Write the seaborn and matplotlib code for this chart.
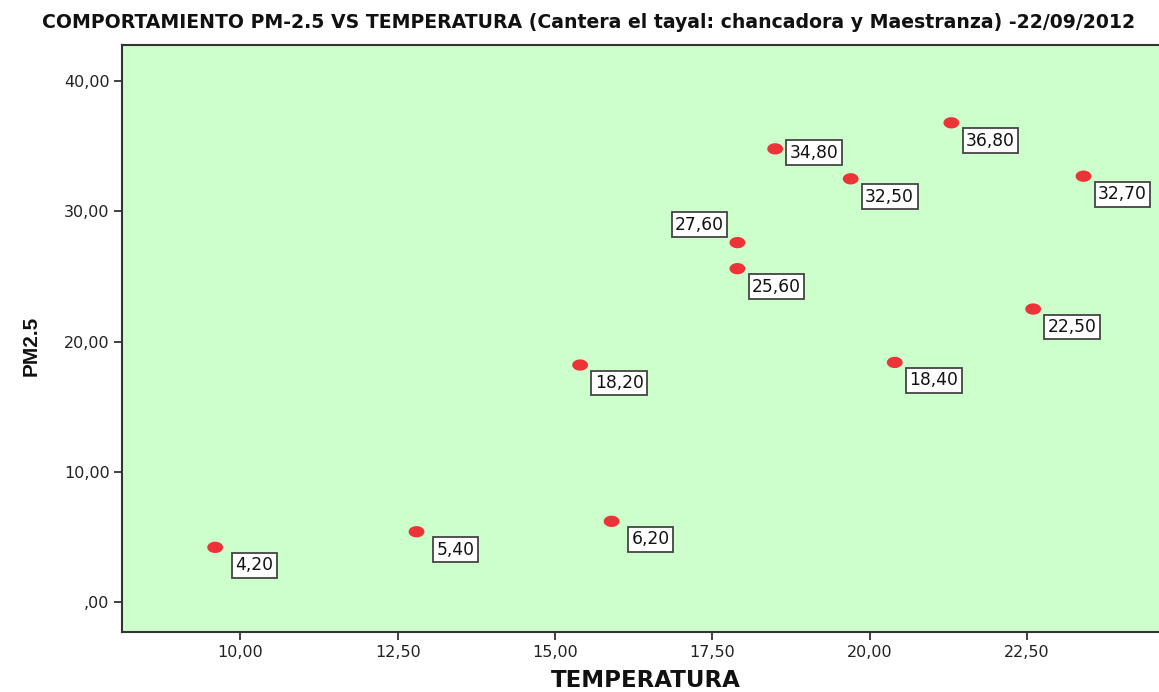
import numpy as np
import pandas as pd
import matplotlib
matplotlib.use("Agg")
import matplotlib.pyplot as plt
from matplotlib.ticker import FuncFormatter
from matplotlib.path import Path
import seaborn as sns

# ---- data ----
temperatura = [9.6, 12.8, 15.4, 15.9, 17.9, 17.9, 18.5, 19.7, 20.4, 21.3, 22.6, 23.4]
pm25 = [4.2, 5.4, 18.2, 6.2, 27.6, 25.6, 34.8, 32.5, 18.4, 36.8, 22.5, 32.7]
x_ticks = [10.0, 12.5, 15.0, 17.5, 20.0, 22.5]
y_ticks = [0, 10, 20, 30, 40]
title = "COMPORTAMIENTO PM-2.5 VS TEMPERATURA (Cantera el tayal: chancadora y Maestranza) -22/09/2012"

df = pd.DataFrame({"TEMPERATURA": temperatura, "PM2.5": pm25})

sns.set_theme(style="ticks")
plt.rcParams["font.family"] = ["DejaVu Sans"]

fig = plt.figure(figsize=(11.59, 6.92), dpi=100)
ax = fig.add_axes([0.1053, 0.0867, 0.8947, 0.848])
ax.set_facecolor("#ccffcc")

t = np.linspace(0, 2 * np.pi, 40)
ell = Path(np.column_stack([1.4 * np.cos(t), np.sin(t)]), closed=True)

sns.scatterplot(data=df, x="TEMPERATURA", y="PM2.5", ax=ax, marker=ell, s=130,
                color="#ee3338", edgecolor="none", linewidth=0, zorder=3)

# label offsets in pixels (dx, dy)
default_off = (39, -18)
special_off = {4: (-38, 18), 6: (39, -4)}
for i, (xv, yv) in enumerate(zip(temperatura, pm25)):
    dx, dy = special_off.get(i, default_off)
    ax.annotate(f"{yv:.2f}".replace(".", ","), (xv, yv),
                xytext=(dx * 0.72, dy * 0.72), textcoords="offset points",
                ha="center", va="center", fontsize=12.3, color="#111111",
                bbox=dict(boxstyle="square,pad=0.2", fc="white", ec="#444444", lw=1.3),
                zorder=4)

ax.set_xlim(8.12, 24.6)
ax.set_ylim(-2.3, 42.76)
ax.set_xticks(x_ticks)
ax.set_yticks(y_ticks)


def fmt_func(v, p):
    s = f"{v:.2f}".replace(".", ",")
    return s[1:] if s.startswith("0,") else s


fmt = FuncFormatter(fmt_func)
ax.xaxis.set_major_formatter(fmt)
ax.yaxis.set_major_formatter(fmt)
ax.tick_params(axis="both", direction="out", length=6, width=1.3, color="#333333",
               labelsize=11.5, labelcolor="#222222", pad=3)

for side in ["top", "left", "bottom"]:
    ax.spines[side].set_color("#333333")
    ax.spines[side].set_linewidth(1.5)
ax.spines["right"].set_visible(False)

ax.set_xlabel("TEMPERATURA", fontsize=16.5, fontweight="bold", color="#111111", va="center")
ax.set_ylabel("PM2.5", fontsize=15, fontweight="bold", color="#111111",
              family="Liberation Sans", va="center")
ax.yaxis.set_label_coords(-0.0875, 0.487)
ax.xaxis.set_label_coords(0.505, -0.082)

fig.text(42 / 1159, 1 - 22 / 692, title, ha="left", va="center", fontsize=13.6,
         fontweight="bold", color="#111111")

fig.savefig("out.png", dpi=100)
